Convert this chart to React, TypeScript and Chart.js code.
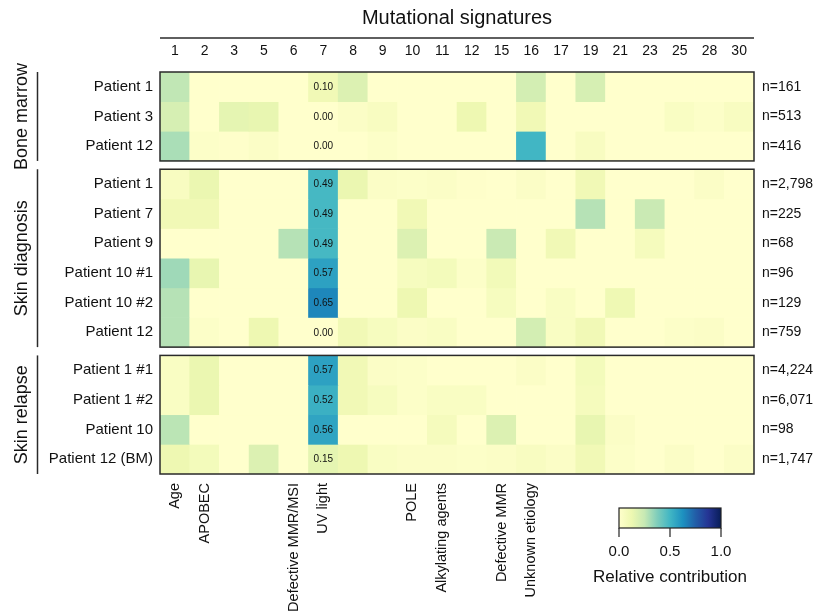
import React, { useEffect, useRef } from "react";
import { Chart, registerables } from "chart.js";

Chart.register(...registerables);

const FONT = '"Liberation Sans", Arial, Helvetica, sans-serif';

// Column categories
const signatures = ["1", "2", "3", "5", "6", "7", "8", "9", "10", "11", "12", "15", "16", "17", "19", "21", "23", "25", "28", "30"];
const etiologies = ["Age", "APOBEC", "", "", "Defective MMR/MSI", "UV light", "", "", "POLE", "Alkylating agents", "", "Defective MMR", "Unknown etiology", "", "", "", "", "", "", ""];

// Row groups
const groupNames = ["Bone marrow", "Skin diagnosis", "Skin relapse"];

const boneMarrowRows = ["Patient 1", "Patient 3", "Patient 12"];
const boneMarrowN = ["n=161", "n=513", "n=416"];
// columns: 1 2 3 5 6 7 8 9 10 11 12 15 16 17 19 21 23 25 28 30
const boneMarrowValues = [
  [0.26, 0, 0, 0, 0, 0.10, 0.18, 0, 0, 0, 0, 0, 0.21, 0, 0.20, 0, 0, 0, 0, 0],
  [0.20, 0, 0.15, 0.14, 0, 0.00, 0.03, 0.05, 0, 0, 0.12, 0, 0.10, 0, 0, 0, 0, 0.04, 0.02, 0.05],
  [0.30, 0.02, 0.01, 0.03, 0, 0.00, 0, 0.02, 0, 0, 0, 0, 0.50, 0, 0.05, 0, 0, 0, 0, 0],
];

const skinDiagnosisRows = ["Patient 1", "Patient 7", "Patient 9", "Patient 10 #1", "Patient 10 #2", "Patient 12"];
const skinDiagnosisN = ["n=2,798", "n=225", "n=68", "n=96", "n=129", "n=759"];
const skinDiagnosisValues = [
  [0.05, 0.13, 0, 0, 0, 0.49, 0.13, 0.03, 0.02, 0.03, 0.01, 0, 0.03, 0, 0.10, 0, 0, 0, 0.03, 0],
  [0.10, 0.10, 0, 0, 0, 0.49, 0, 0, 0.10, 0, 0, 0, 0, 0, 0.28, 0, 0.24, 0, 0, 0],
  [0, 0, 0, 0, 0.28, 0.49, 0, 0, 0.18, 0, 0, 0.24, 0, 0.10, 0, 0, 0.07, 0, 0, 0],
  [0.32, 0.14, 0, 0, 0, 0.57, 0, 0, 0.06, 0.08, 0.02, 0.09, 0, 0, 0, 0, 0, 0, 0, 0],
  [0.28, 0, 0, 0, 0, 0.65, 0, 0, 0.12, 0, 0, 0.06, 0, 0.04, 0, 0.11, 0, 0, 0, 0],
  [0.28, 0.02, 0, 0.12, 0, 0.00, 0.10, 0.06, 0.03, 0.04, 0, 0, 0.21, 0.04, 0.10, 0, 0, 0.02, 0.03, 0],
];

const skinRelapseRows = ["Patient 1 #1", "Patient 1 #2", "Patient 10", "Patient 12 (BM)"];
const skinRelapseN = ["n=4,224", "n=6,071", "n=98", "n=1,747"];
const skinRelapseValues = [
  [0.04, 0.13, 0, 0, 0, 0.57, 0.10, 0.03, 0.02, 0, 0, 0, 0.03, 0, 0.08, 0, 0, 0, 0, 0],
  [0.04, 0.13, 0, 0, 0, 0.52, 0.10, 0.06, 0.02, 0.04, 0.04, 0, 0, 0, 0.07, 0, 0, 0, 0, 0],
  [0.27, 0, 0, 0, 0, 0.56, 0, 0, 0, 0.07, 0, 0.18, 0, 0, 0.14, 0.03, 0, 0, 0, 0],
  [0.12, 0.08, 0, 0.18, 0, 0.15, 0.12, 0.04, 0.03, 0.03, 0.02, 0.03, 0.05, 0.03, 0.10, 0.02, 0, 0.03, 0, 0.03],
];

const uvColumn = "7";
const colorbarTicks = [0, 0.5, 1];

// YlGnBu colour stops
const ylGnBu = ["#ffffcc", "#edf8b1", "#c7e9b4", "#7fcdbb", "#41b6c4", "#1d91c0", "#225ea8", "#253494", "#081d58"];

function hexToRgb(h: string) {
  const n = parseInt(h.slice(1), 16);
  return [(n >> 16) & 255, (n >> 8) & 255, n & 255];
}
function colorFor(v: number) {
  const t = Math.max(0, Math.min(1, v)) * (ylGnBu.length - 1);
  const i = Math.min(Math.floor(t), ylGnBu.length - 2);
  const f = t - i;
  const a = hexToRgb(ylGnBu[i]);
  const b = hexToRgb(ylGnBu[i + 1]);
  const c = a.map((x, k) => Math.round(x + (b[k] - x) * f));
  return `rgb(${c[0]},${c[1]},${c[2]})`;
}

const groups = [
  { name: groupNames[0], rows: boneMarrowRows, n: boneMarrowN, values: boneMarrowValues },
  { name: groupNames[1], rows: skinDiagnosisRows, n: skinDiagnosisN, values: skinDiagnosisValues },
  { name: groupNames[2], rows: skinRelapseRows, n: skinRelapseN, values: skinRelapseValues },
];

const GAP = 0.28;

// Build row positions (in y units, reversed axis)
type RowInfo = { label: string; n: string; values: number[]; start: number; end: number; center: number };
const rowInfos: RowInfo[] = [];
const groupSpans: { name: string; start: number; end: number }[] = [];
let cursor = 0;
groups.forEach((g, gi) => {
  if (gi > 0) cursor += GAP;
  const gStart = cursor;
  g.rows.forEach((label, ri) => {
    rowInfos.push({ label, n: g.n[ri], values: g.values[ri], start: cursor, end: cursor + 1, center: cursor + 0.5 });
    cursor += 1;
  });
  groupSpans.push({ name: g.name, start: gStart, end: cursor });
});
const yMax = cursor;

const decorPlugin = {
  id: "decor",
  afterDatasetsDraw(chart: any) {
    const { ctx, chartArea } = chart;
    const x = chart.scales.x;
    const y = chart.scales.y;
    ctx.save();
    // UV light values
    const uvIdx = signatures.indexOf(uvColumn);
    ctx.font = `10px ${FONT}`;
    ctx.fillStyle = "#111";
    ctx.textAlign = "center";
    ctx.textBaseline = "middle";
    rowInfos.forEach((r) => {
      ctx.fillText(r.values[uvIdx].toFixed(2), x.getPixelForValue(uvIdx), y.getPixelForValue(r.center) + 0.5);
    });
    // Panel borders
    ctx.strokeStyle = "#2a2a2a";
    ctx.lineWidth = 1.5;
    groupSpans.forEach((g) => {
      const top = y.getPixelForValue(g.start);
      const bottom = y.getPixelForValue(g.end);
      ctx.strokeRect(chartArea.left, top, chartArea.right - chartArea.left, bottom - top);
    });
    // Group brackets and names
    groupSpans.forEach((g) => {
      const top = y.getPixelForValue(g.start);
      const bottom = y.getPixelForValue(g.end);
      ctx.beginPath();
      ctx.moveTo(37.5, top);
      ctx.lineTo(37.5, bottom);
      ctx.stroke();
      ctx.save();
      ctx.translate(22, (top + bottom) / 2);
      ctx.rotate(-Math.PI / 2);
      ctx.font = `18px ${FONT}`;
      ctx.fillStyle = "#111";
      ctx.textAlign = "center";
      ctx.textBaseline = "middle";
      ctx.fillText(g.name, 0, 0);
      ctx.restore();
    });
    // Title and rule
    ctx.font = `20px ${FONT}`;
    ctx.fillStyle = "#111";
    ctx.textAlign = "center";
    ctx.textBaseline = "middle";
    ctx.fillText("Mutational signatures", (chartArea.left + chartArea.right) / 2, 18);
    ctx.beginPath();
    ctx.moveTo(chartArea.left, 38);
    ctx.lineTo(chartArea.right, 38);
    ctx.stroke();
    // Colour bar
    const cbX0 = 619, cbX1 = 721, cbY0 = 508, cbY1 = 528;
    const grad = ctx.createLinearGradient(cbX0, 0, cbX1, 0);
    ylGnBu.forEach((c, i) => grad.addColorStop(i / (ylGnBu.length - 1), c));
    ctx.fillStyle = grad;
    ctx.fillRect(cbX0, cbY0, cbX1 - cbX0, cbY1 - cbY0);
    ctx.lineWidth = 1.2;
    ctx.strokeStyle = "#222";
    ctx.strokeRect(cbX0, cbY0, cbX1 - cbX0, cbY1 - cbY0);
    ctx.font = `15px ${FONT}`;
    ctx.fillStyle = "#111";
    colorbarTicks.forEach((t) => {
      const px = cbX0 + (cbX1 - cbX0) * t;
      ctx.beginPath();
      ctx.moveTo(px, cbY1);
      ctx.lineTo(px, cbY1 + 9);
      ctx.stroke();
      ctx.fillText(t.toFixed(1), px, 552);
    });
    ctx.font = `17px ${FONT}`;
    ctx.fillText("Relative contribution", 670, 577);
    ctx.restore();
  },
};

export default function App() {
  const ref = useRef<HTMLCanvasElement>(null);
  useEffect(() => {
    if (!ref.current) return;
    const datasets = rowInfos.map((r) => ({
      label: r.label,
      data: signatures.map(() => [r.start, r.end]),
      backgroundColor: r.values.map((v) => colorFor(v)),
      borderWidth: 0,
      barPercentage: 1,
      categoryPercentage: 1,
      grouped: false,
      xAxisID: "x",
      yAxisID: "y",
    }));
    const rowCenters = rowInfos.map((r) => r.center);
    const chart = new Chart(ref.current, {
      type: "bar",
      data: { labels: signatures, datasets: datasets as any },
      plugins: [decorPlugin as any],
      options: {
        animation: false,
        responsive: false,
        devicePixelRatio: 1,
        layout: { padding: 0 },
        plugins: { legend: { display: false }, tooltip: { enabled: false }, title: { display: false } },
        scales: {
          x: {
            type: "category",
            position: "top",
            offset: true,
            grid: { display: false, drawTicks: false },
            border: { display: false },
            ticks: { color: "#111", font: { family: FONT, size: 14 }, padding: 12, autoSkip: false, maxRotation: 0, minRotation: 0 },
            afterFit: (s: any) => { s.height = 72; },
          },
          xb: {
            type: "category",
            position: "bottom",
            labels: etiologies,
            offset: true,
            grid: { display: false, drawTicks: false },
            border: { display: false },
            ticks: { color: "#111", font: { family: FONT, size: 14.5 }, padding: 9, autoSkip: false, maxRotation: 90, minRotation: 90 },
            afterFit: (s: any) => { s.height = 142; },
          },
          y: {
            type: "linear",
            position: "left",
            min: 0,
            max: yMax,
            reverse: true,
            grid: { display: false, drawTicks: false },
            border: { display: false },
            afterBuildTicks: (s: any) => { s.ticks = rowCenters.map((v) => ({ value: v })); },
            ticks: { color: "#111", font: { family: FONT, size: 15 }, padding: 7, callback: (_v: any, i: number) => rowInfos[i]?.label ?? "" },
            afterFit: (s: any) => { s.width = 160; },
          },
          yR: {
            type: "linear",
            position: "right",
            min: 0,
            max: yMax,
            reverse: true,
            grid: { display: false, drawTicks: false },
            border: { display: false },
            afterBuildTicks: (s: any) => { s.ticks = rowCenters.map((v) => ({ value: v })); },
            ticks: { color: "#111", font: { family: FONT, size: 14 }, padding: 8, callback: (_v: any, i: number) => rowInfos[i]?.n ?? "" },
            afterFit: (s: any) => { s.width = 68; },
          },
        },
      } as any,
    });
    return () => chart.destroy();
  }, []);
  return (
    <div style={{ position: "fixed", left: 0, top: 0, width: 822, height: 616, background: "#fff" }}>
      <canvas ref={ref} width={822} height={616} style={{ display: "block", width: 822, height: 616 }} />
    </div>
  );
}
